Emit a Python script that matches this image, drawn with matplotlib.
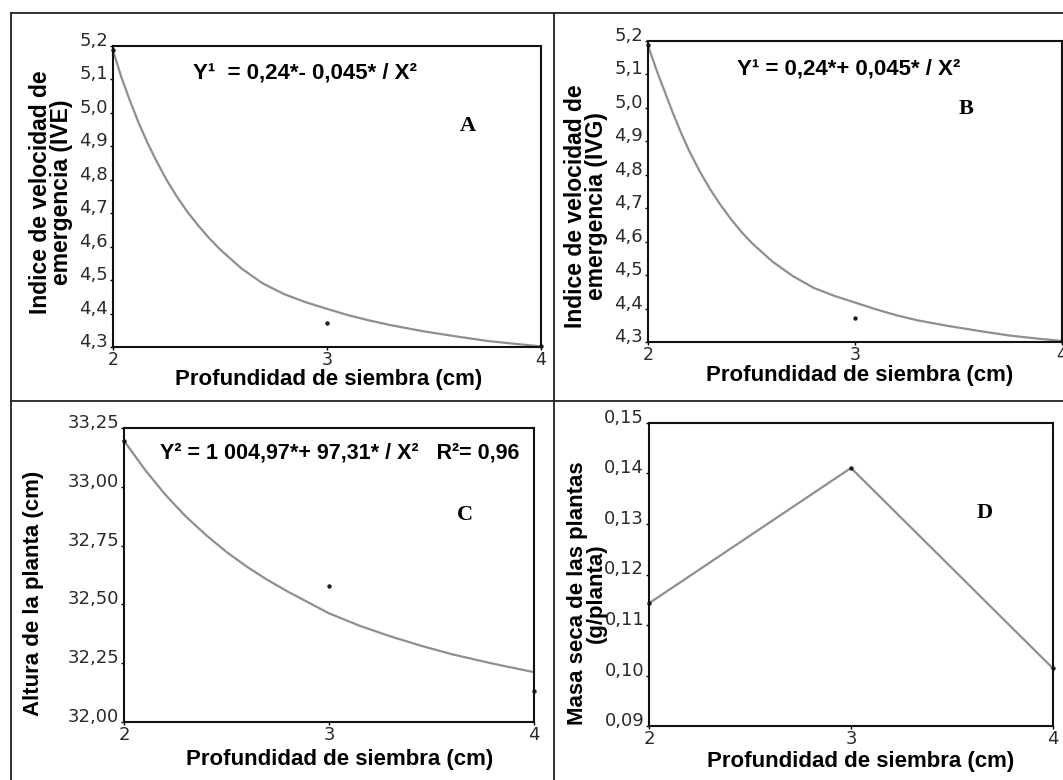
import matplotlib
matplotlib.use("Agg")
import matplotlib.pyplot as plt
from matplotlib.lines import Line2D

W, H = 1063, 780

# ---------------- data ----------------
x_obs = [2, 3, 4]
x_ticks = [2, 3, 4]
x_tick_labels = ["2", "3", "4"]

# Panel A : fitted curve read along its length + observed means
a_curve_x = [2.00, 2.04, 2.08, 2.12, 2.16, 2.20, 2.25, 2.30, 2.35, 2.40, 2.45, 2.50,
             2.60, 2.70, 2.80, 2.90, 3.00, 3.10, 3.20, 3.30, 3.45, 3.60, 3.75, 3.90, 4.00]
a_curve_y = [5.187, 5.105, 5.035, 4.970, 4.912, 4.860, 4.800, 4.748, 4.702, 4.662, 4.625, 4.592,
             4.535, 4.490, 4.458, 4.434, 4.414, 4.395, 4.379, 4.365, 4.347, 4.332, 4.318, 4.308, 4.302]
a_obs = [5.187, 4.372, 4.302]
ab_yticks = [4.3, 4.4, 4.5, 4.6, 4.7, 4.8, 4.9, 5.0, 5.1, 5.2]
ab_ytick_labels = ["4,3", "4,4", "4,5", "4,6", "4,7", "4,8", "4,9", "5,0", "5,1", "5,2"]

# Panel B
b_curve_x = [2.00, 2.04, 2.08, 2.12, 2.16, 2.20, 2.25, 2.30, 2.35, 2.40, 2.45, 2.50,
             2.60, 2.70, 2.80, 2.90, 3.00, 3.10, 3.20, 3.30, 3.45, 3.60, 3.75, 3.90, 4.00]
b_curve_y = [5.187, 5.115, 5.050, 4.985, 4.925, 4.870, 4.810, 4.757, 4.710, 4.668, 4.630, 4.597,
             4.541, 4.497, 4.462, 4.438, 4.418, 4.398, 4.380, 4.365, 4.348, 4.333, 4.319, 4.309, 4.303]
b_obs = [5.187, 4.371, 4.302]

# Panel C
c_curve_x = [2.00, 2.10, 2.20, 2.30, 2.40, 2.50, 2.60, 2.70, 2.80, 2.90, 3.00,
             3.15, 3.30, 3.45, 3.60, 3.80, 4.00]
c_curve_y = [33.196, 33.075, 32.968, 32.875, 32.795, 32.723, 32.660, 32.604, 32.554, 32.508, 32.462,
             32.409, 32.364, 32.324, 32.288, 32.248, 32.212]
c_obs = [33.196, 32.58, 32.13]
c_yticks = [32.00, 32.25, 32.50, 32.75, 33.00, 33.25]
c_ytick_labels = ["32,00", "32,25", "32,50", "32,75", "33,00", "33,25"]

# Panel D
d_obs = [0.1143, 0.1411, 0.1014]
d_yticks = [0.09, 0.10, 0.11, 0.12, 0.13, 0.14, 0.15]
d_ytick_labels = ["0,09", "0,10", "0,11", "0,12", "0,13", "0,14", "0,15"]

# texts
xlabel_txt = "Profundidad de siembra (cm)"
ylabel_a = "Indice de velocidad de\nemergencia (IVE)"
ylabel_b = "Indice de velocidad de\nemergencia (IVG)"
ylabel_c = "Altura de la planta (cm)"
ylabel_d = "Masa seca de las plantas\n(g/planta)"
eq_a = "Y¹  = 0,24*- 0,045* / X²"
eq_b = "Y¹ = 0,24*+ 0,045* / X²"
eq_c = "Y² = 1 004,97*+ 97,31* / X²   R²= 0,96"

# ---------------- figure ----------------
fig = plt.figure(figsize=(W / 100, H / 100), dpi=100)
fig.patch.set_facecolor("white")


def px(x, y):
    return x / W, 1 - y / H


def box(l, t, r, b):
    return [l / W, 1 - b / H, (r - l) / W, (b - t) / H]


CURVE = "#8f8f8f"
TICKC = "#2a2a2a"
LABEL_FONT = dict(family="Liberation Sans", weight="bold", fontsize=16, color="black")
EQ_FONT = dict(family="Liberation Sans", weight="bold", fontsize=16, color="black")
LET_FONT = dict(family="Liberation Serif", weight="bold", fontsize=16, color="black")


def style(ax, yticks, ylabels, ylim, xsize=13):
    ax.set_xlim(2, 4)
    ax.set_ylim(*ylim)
    ax.set_xticks(x_ticks)
    ax.set_xticklabels(x_tick_labels)
    ax.set_yticks(yticks)
    ax.set_yticklabels(ylabels)
    for s in ax.spines.values():
        s.set_linewidth(1.5)
        s.set_color("#111111")
    ax.tick_params(axis="both", direction="out", length=2.5, width=1,
                   labelsize=13, labelcolor=TICKC, pad=1)
    ax.tick_params(axis="x", labelsize=xsize, pad=0.5)
    for lab in ax.get_yticklabels():
        lab.set_va("baseline")
        lab.set_family("DejaVu Sans")
    for lab in ax.get_xticklabels():
        lab.set_family("DejaVu Sans")


# Panel A
axA = fig.add_axes(box(113, 46, 541, 347))
axA.plot(a_curve_x, a_curve_y, color=CURVE, lw=1.6, clip_on=False)
axA.plot(x_obs, a_obs, ls="none", marker="o", ms=2.2, color="#222222", clip_on=False)
style(axA, ab_yticks, ab_ytick_labels, (4.3, 5.2), xsize=12.5)

# Panel B
axB = fig.add_axes(box(648, 41, 1062, 342))
axB.plot(b_curve_x, b_curve_y, color=CURVE, lw=1.6, clip_on=False)
axB.plot(x_obs, b_obs, ls="none", marker="o", ms=2.2, color="#222222", clip_on=False)
style(axB, ab_yticks, ab_ytick_labels, (4.3, 5.2), xsize=12.5)

# Panel C
axC = fig.add_axes(box(124, 428, 534, 722))
axC.plot(c_curve_x, c_curve_y, color=CURVE, lw=1.6, clip_on=False)
axC.plot(x_obs, c_obs, ls="none", marker="o", ms=2.2, color="#222222", clip_on=False)
style(axC, c_yticks, c_ytick_labels, (32.0, 33.25))

# Panel D
axD = fig.add_axes(box(649, 423, 1053, 726))
axD.plot(x_obs, d_obs, color=CURVE, lw=1.6, marker="o", ms=2.2,
         mfc="#222222", mec="#222222", clip_on=False)
style(axD, d_yticks, d_ytick_labels, (0.09, 0.15))

# equations & letters
fig.text(*px(193, 79), eq_a, ha="left", va="baseline", **EQ_FONT)
fig.text(*px(737, 75), eq_b, ha="left", va="baseline", **EQ_FONT)
fig.text(*px(160, 459), eq_c, ha="left", va="baseline",
         **dict(EQ_FONT, fontsize=15.5))
fig.text(*px(468, 126), "A", ha="center", va="center", **LET_FONT)
fig.text(*px(966, 109), "B", ha="center", va="center", **LET_FONT)
fig.text(*px(465, 515), "C", ha="center", va="center", **LET_FONT)
fig.text(*px(985, 513), "D", ha="center", va="center", **LET_FONT)

# axis labels
fig.text(*px(51, 192), ylabel_a, rotation=90, ha="center", va="center",
         multialignment="center", linespacing=0.85, **dict(LABEL_FONT, fontsize=16.5))
fig.text(*px(586, 206), ylabel_b, rotation=90, ha="center", va="center",
         multialignment="center", linespacing=0.85, **dict(LABEL_FONT, fontsize=16.5))
fig.text(*px(34, 593), ylabel_c, rotation=90, ha="center", va="center", **LABEL_FONT)
fig.text(*px(587, 593), ylabel_d, rotation=90, ha="center", va="center",
         multialignment="center", linespacing=0.85, **LABEL_FONT)
fig.text(*px(329, 379), xlabel_txt, ha="center", va="center", **LABEL_FONT)
fig.text(*px(860, 375), xlabel_txt, ha="center", va="center", **LABEL_FONT)
fig.text(*px(340, 760), xlabel_txt, ha="center", va="center", **LABEL_FONT)
fig.text(*px(861, 761), xlabel_txt, ha="center", va="center", **LABEL_FONT)

# outer frame / grid lines of the table
lw_frame = 1.3
for (x0, y0, x1, y1) in [(11, 13, 1063, 13), (11, 13, 11, 780),
                         (553.5, 13, 553.5, 780), (11, 401, 1063, 401)]:
    fig.add_artist(Line2D([x0 / W, x1 / W], [1 - y0 / H, 1 - y1 / H],
                          transform=fig.transFigure, color="#222222", lw=lw_frame))

fig.savefig("out.png", dpi=100, facecolor="white")
